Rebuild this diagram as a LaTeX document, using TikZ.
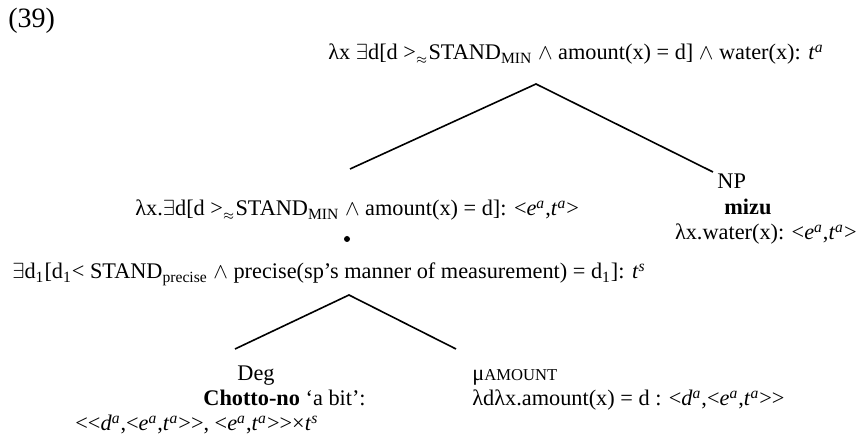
\documentclass[tikz,border=0pt]{standalone}
\usepackage{fontspec}
\setmainfont{Liberation Serif}
\newcommand\myex{$\exists$}
\newcommand\myand{$\wedge$}
\newcommand\ty[2]{\textit{#1}\textsuperscript{\textit{#2}}}
\newcommand\gtap{>\textsubscript{\fontsize{6.5}{7}\selectfont$\approx$}}
\newcommand\dlt{<\kern0pt<}
\newcommand\dgt{>\kern0pt>}
\begin{document}
\begin{tikzpicture}[x=0.5pt,y=-0.5pt,
  lbl/.style={anchor=base west,inner sep=0pt,font=\fontsize{11.15}{13}\selectfont},
  branch/.style={line width=0.8pt}]
\useasboundingbox (0,0) rectangle (859,438);
% labels
\node[lbl,font=\fontsize{14}{16}\selectfont] (n39) at (8,28) {(39)};
\node[lbl] (top) at (328,60) {λx \myex d[d \gtap STAND\textsubscript{MIN} \myand\ amount(x) = d] \myand\ water(x): \ty{t}{a}};
\node[lbl] (left) at (135,216) {λx.\myex d[d \gtap STAND\textsubscript{MIN} \myand\ amount(x) = d]: <\ty{e}{a},\ty{t}{a}>};
\node[lbl] (npl) at (717,189) {NP};
\node[lbl] (mizu) at (724,215) {\textbf{mizu}};
\node[lbl,anchor=base east] (water) at (857,240) {λx.water(x): <\ty{e}{a},\ty{t}{a}>};
\node[circle,fill,inner sep=0pt,minimum size=3pt] (dot) at (347,239) {};
\node[lbl] (prec) at (12,279) {\myex d\textsubscript{1}[d\textsubscript{1}< STAND\textsubscript{precise} \myand\ precise(sp’s manner of measurement) = d\textsubscript{1}]: \ty{t}{s}};
\node[lbl] (deglbl) at (237,381) {Deg};
\node[lbl] (chotto) at (203,406) {\textbf{Chotto-no} ‘a bit’:};
\node[lbl] (degtype) at (75,431) {\dlt\ty{d}{a},<\ty{e}{a},\ty{t}{a}\dgt, <\ty{e}{a},\ty{t}{a}\dgt×\ty{t}{s}};
\node[lbl] (mulbl) at (472,381) {μ{\fontsize{8.3}{10}\selectfont AMOUNT}};
\node[lbl] (mutype) at (472,406) {λdλx.amount(x) = d : <\ty{d}{a},<\ty{e}{a},\ty{t}{a}\dgt};
% tree branches
\coordinate (r) at (536,84);
\coordinate (l1) at (350,169);
\coordinate (np) at (713,172);
\coordinate (r2) at (349,295);
\coordinate (dg) at (235,349);
\coordinate (mu) at (456,349);
\draw[branch] (l1) -- (r) -- (np);
\draw[branch] (dg) -- (r2) -- (mu);
\end{tikzpicture}
\end{document}
